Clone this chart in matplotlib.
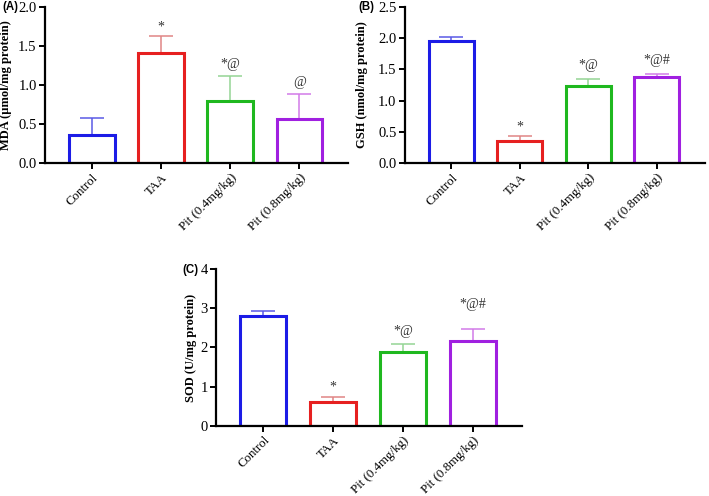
import numpy as np
import matplotlib
matplotlib.use('Agg')
import matplotlib.pyplot as plt

plt.rcParams['font.family'] = 'Liberation Serif'

groups = ['Control', 'TAA', 'Pit (0.4mg/kg)', 'Pit (0.8mg/kg)']
bar_colors = ['#1c1ce6', '#e62020', '#1fb81f', '#a020e0']
err_colors = ['#5a5ae6', '#e08585', '#95d595', '#d27ae8']

mda = [0.36, 1.41, 0.80, 0.57]
mda_err = [0.22, 0.22, 0.31, 0.31]
mda_marks = ['', '*', '*@', '@']
mda_mark_y = [0, 1.74, 1.26, 1.03]

gsh = [1.95, 0.36, 1.23, 1.38]
gsh_err = [0.07, 0.08, 0.11, 0.05]
gsh_marks = ['', '*', '*@', '*@#']
gsh_mark_y = [0, 0.58, 1.57, 1.64]

sod = [2.80, 0.62, 1.88, 2.17]
sod_err = [0.13, 0.12, 0.22, 0.31]
sod_marks = ['', '*', '*@', '*@#']
sod_mark_y = [0, 1.0, 2.4, 3.08]

W, H = 709, 496


def panel(ax, vals, errs, marks, mark_y, ylim, yticks, ytl, ylabel, label_x):
    x = np.arange(len(groups))
    for i in range(len(groups)):
        ax.errorbar(x[i], vals[i], yerr=[[0], [errs[i]]], fmt='none',
                    ecolor=err_colors[i], elinewidth=1.1, capsize=8.5,
                    capthick=1.1, zorder=1)
        ax.bar(x[i], vals[i], width=0.66, facecolor='white',
               edgecolor=bar_colors[i], linewidth=2.2, zorder=2)
        if marks[i]:
            ax.text(x[i], mark_y[i], marks[i], ha='center', va='center',
                    fontsize=10, color='#333333')
    ax.set_xlim(-0.68, 3.7)
    ax.set_ylim(*ylim)
    ax.set_yticks(yticks)
    ax.set_yticklabels(ytl, fontsize=10.5)
    ax.set_xticks(x)
    ax.set_xticklabels(groups, rotation=45, ha='right', rotation_mode='anchor',
                       fontsize=9.3)
    ax.spines['top'].set_visible(False)
    ax.spines['right'].set_visible(False)
    ax.spines['left'].set_linewidth(1.6)
    ax.spines['bottom'].set_linewidth(1.6)
    ax.tick_params(width=1.4, length=4.5, pad=1.5)
    ax.set_ylabel(ylabel, fontsize=9, fontweight='bold')
    ax.yaxis.set_label_coords(label_x, 0.5)


fig = plt.figure(figsize=(W / 100, H / 100), dpi=100)
ax1 = fig.add_axes([0.0635, 0.671, 0.427, 0.315])
ax2 = fig.add_axes([0.571, 0.671, 0.423, 0.315])
ax3 = fig.add_axes([0.3047, 0.141, 0.431, 0.317])

panel(ax1, mda, mda_err, mda_marks, mda_mark_y, (0, 2.0),
      [0, 0.5, 1.0, 1.5, 2.0], ['0.0', '0.5', '1.0', '1.5', '2.0'],
      'MDA (µmol/mg protein)', -0.109)
panel(ax2, gsh, gsh_err, gsh_marks, gsh_mark_y, (0, 2.5),
      [0, 0.5, 1.0, 1.5, 2.0, 2.5], ['0.0', '0.5', '1.0', '1.5', '2.0', '2.5'],
      'GSH (nmol/mg protein)', -0.123)
panel(ax3, sod, sod_err, sod_marks, sod_mark_y, (0, 4),
      [0, 1, 2, 3, 4], ['0', '1', '2', '3', '4'],
      'SOD (U/mg protein)', -0.062)

# panel tags, placed in pixel positions
for tag, px, py in [('(A)', 2, 7), ('(B)', 358, 7), ('(C)', 182, 270)]:
    fig.text(px / W, 1 - py / H, tag, fontsize=8.3, fontweight='bold',
             family='Liberation Sans', ha='left', va='center')

fig.savefig('out.png', dpi=100)
